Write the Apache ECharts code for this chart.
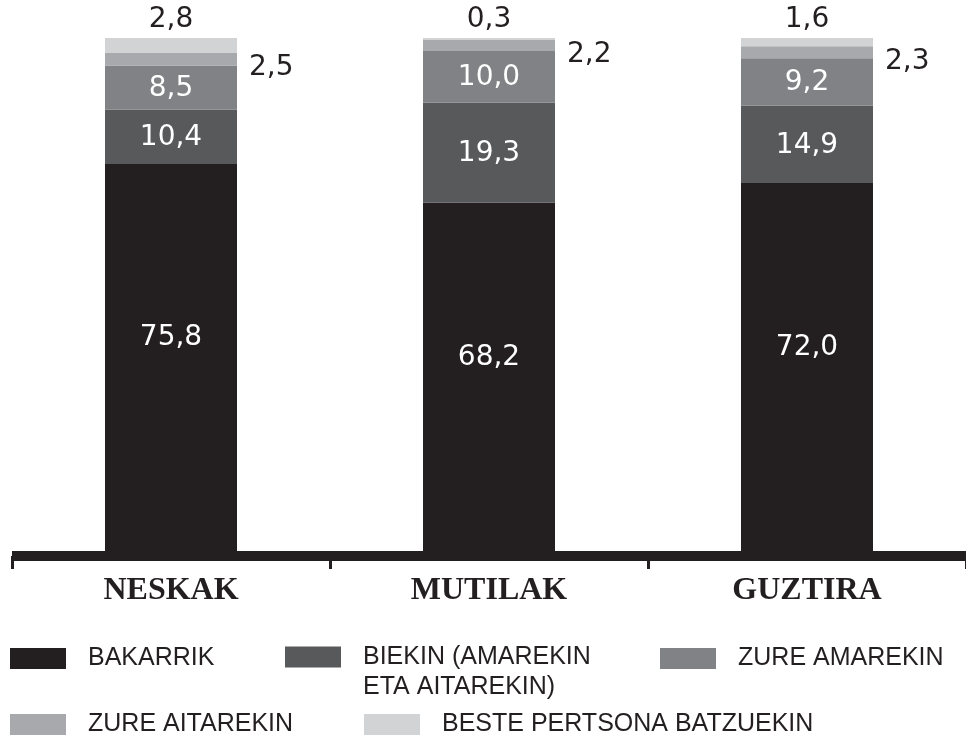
<!DOCTYPE html>
<html>
<head>
<meta charset="utf-8">
<script src="https://cdn.jsdelivr.net/npm/echarts@6/dist/echarts.min.js"></script>
<style>
html,body{margin:0;padding:0;background:#fff;}
#chart{width:966px;height:744px;}
</style>
</head>
<body>
<div id="chart"></div>
<script>
const categories = ['NESKAK', 'MUTILAK', 'GUZTIRA'];
const seriesNames = ['BAKARRIK', 'BIEKIN (AMAREKIN\nETA AITAREKIN)', 'ZURE AMAREKIN', 'ZURE AITAREKIN', 'BESTE PERTSONA BATZUEKIN'];
const bakarrik = [75.8, 68.2, 72.0];
const biekin = [10.4, 19.3, 14.9];
const zureAmarekin = [8.5, 10.0, 9.2];
const zureAitarekin = [2.5, 2.2, 2.3];
const beste = [2.8, 0.3, 1.6];

const colors = ['#231f20', '#58595b', '#808285', '#a7a9ac', '#d1d3d4'];
const values = [bakarrik, biekin, zureAmarekin, zureAitarekin, beste];

const fmt = p => p.value.toFixed(1).replace('.', ',');
const labelFont = "'DejaVu Sans', sans-serif";

function labelFor(i) {
  if (i < 3) {
    return {show: true, position: 'inside', color: '#ffffff', fontFamily: labelFont, fontSize: 28,
            offset: i === 0 ? [0, -22] : [0, 1], formatter: fmt};
  }
  if (i === 3) {
    return {show: true, position: 'right', distance: 12, offset: [0, 9], color: '#231f20',
            fontFamily: labelFont, fontSize: 28, formatter: fmt};
  }
  return {show: true, position: 'top', distance: 4, color: '#231f20', fontFamily: labelFont,
          fontSize: 28, formatter: fmt};
}

const series = values.map((v, i) => ({
  name: seriesNames[i],
  type: 'bar',
  stack: 'total',
  barWidth: 132,
  data: v,
  itemStyle: {color: colors[i]},
  label: labelFor(i),
  emphasis: {disabled: true}
}));

const legendFont = "'Liberation Sans', Arial, sans-serif";
const legendPos = [
  {left: 10, top: 646},
  {left: 285, top: 612},
  {left: 660, top: 646},
  {left: 10, top: 712},
  {left: 364, top: 712}
];
const legends = seriesNames.map((n, i) => ({
  data: [n],
  left: legendPos[i].left,
  top: legendPos[i].top,
  padding: 0,
  itemWidth: 56,
  itemHeight: 21,
  icon: 'rect',
  selectedMode: false,
  formatter: i === 1 ? (name => '\n' + name) : (name => name),
  textStyle: {
    fontFamily: legendFont,
    fontSize: 25,
    color: '#231f20',
    lineHeight: i === 1 ? 30 : 21,
    padding: [0, 0, 0, 17]
  }
}));

const chart = echarts.init(document.getElementById('chart'), null, {renderer: 'canvas'});
chart.setOption({
  animation: false,
  color: colors,
  grid: {left: 12, right: -8, top: 38, bottom: 188},
  legend: legends,
  xAxis: {
    type: 'category',
    data: categories,
    axisLine: {lineStyle: {color: '#231f20', width: 10, cap: 'butt'}},
    axisTick: {show: true, length: 13, lineStyle: {color: '#231f20', width: 3}},
    axisLabel: {
      margin: 19,
      fontFamily: "'Liberation Serif', 'Times New Roman', serif",
      fontWeight: 'bold',
      fontSize: 32,
      color: '#231f20'
    }
  },
  yAxis: {
    type: 'value',
    min: 0,
    max: 100,
    show: false,
    splitLine: {show: false}
  },
  series: series
});
</script>
</body>
</html>
